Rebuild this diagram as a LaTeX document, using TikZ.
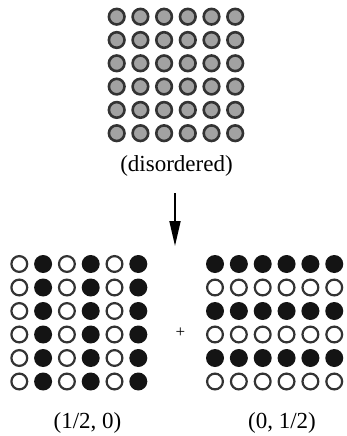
\documentclass[tikz,border=0pt]{standalone}
\usepackage{fontspec}
\setmainfont{Liberation Serif}
\usetikzlibrary{arrows.meta}
\definecolor{ringc}{HTML}{333333}
\definecolor{grayfill}{HTML}{A2A2A2}
\definecolor{blackfill}{HTML}{141414}
\tikzset{
  grayball/.style={circle, inner sep=0pt, minimum size=15.6pt, draw=ringc, line width=2.6pt, fill=grayfill},
  openball/.style={circle, inner sep=0pt, minimum size=15.8pt, draw=ringc, line width=2.2pt, fill=white},
  fullball/.style={circle, inner sep=0pt, minimum size=18pt, fill=blackfill},
  lab/.style={font=\fontsize{23}{27}\selectfont, inner sep=0pt, anchor=base},
  arr/.style={line width=1.8pt, -{Triangle[length=25pt, width=11pt]}}
}
\begin{document}
\begin{tikzpicture}[x=1pt,y=-1pt]
\useasboundingbox (0,0) rectangle (346,436);
% top disordered grid
\foreach \i in {0,...,5}{
  \foreach \j in {0,...,5}{
    \node[grayball] (t-\i-\j) at ({116.7+23.7*\i},{16.7+23.3*\j}) {};
  }
}
\node[lab] (dis) at (176.5,171) {(disordered)};
\coordinate (astart) at (175,193);
\coordinate (aend) at (175,246);
\draw[arr] (astart) -- (aend);
% bottom left grid: columns alternate
\foreach \i in {0,...,5}{
  \foreach \j in {0,...,5}{
    \pgfmathtruncatemacro{\odd}{mod(\i,2)}
    \ifnum\odd=0
      \node[openball] (l-\i-\j) at ({19.3+23.8*\i},{264+23.5*\j}) {};
    \else
      \node[fullball] (l-\i-\j) at ({19.3+23.8*\i},{264+23.5*\j}) {};
    \fi
  }
}
% bottom right grid: rows alternate
\foreach \i in {0,...,5}{
  \foreach \j in {0,...,5}{
    \pgfmathtruncatemacro{\odd}{mod(\j,2)}
    \ifnum\odd=0
      \node[fullball] (r-\i-\j) at ({215+23.85*\i},{264+23.5*\j}) {};
    \else
      \node[openball] (r-\i-\j) at ({215+23.85*\i},{264+23.5*\j}) {};
    \fi
  }
}
\node[font=\fontsize{17}{20}\selectfont, inner sep=0pt] (plus) at (180.5,333) {+};
\node[lab] (l1) at (87.5,428) {(1/2, 0)};
\node[lab] (l2) at (282,428) {(0, 1/2)};
\end{tikzpicture}
\end{document}
